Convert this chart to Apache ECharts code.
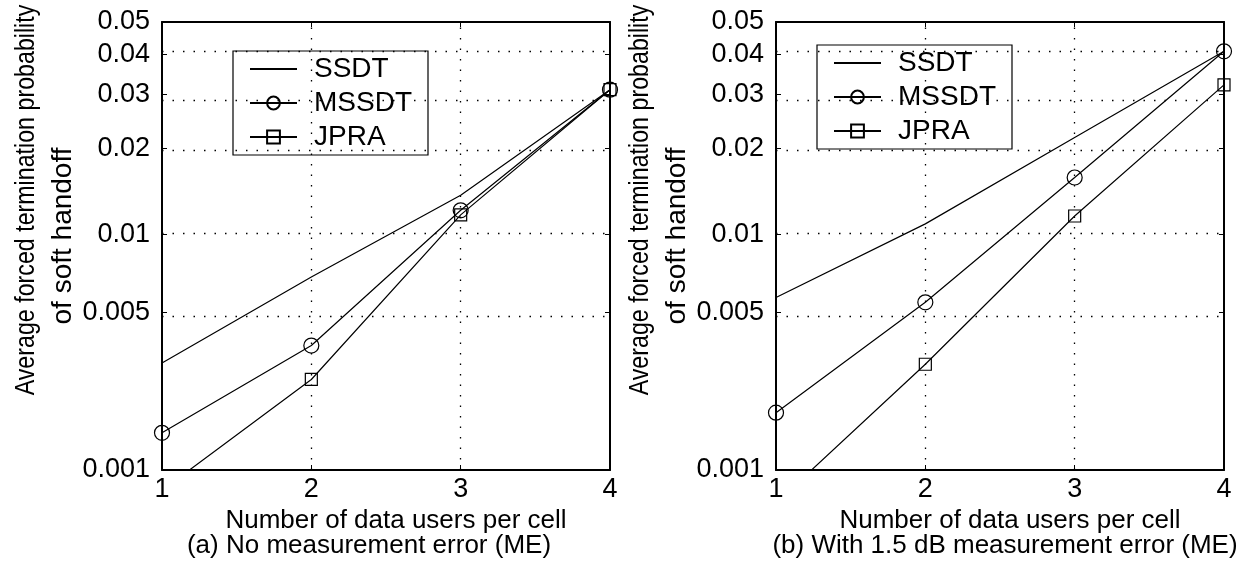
<!DOCTYPE html>
<html>
<head>
<meta charset="utf-8">
<script src="https://cdn.jsdelivr.net/npm/echarts@6/dist/echarts.min.js"></script>
<style>
  html, body { margin: 0; padding: 0; background: #fff; }
  #chart { width: 1253px; height: 571px; }
</style>
</head>
<body>
<div id="chart"></div>
<script>
// values
const userCounts = [1, 2, 3, 4];
const ssdtNoME = [0.0031, 0.0069, 0.0138, 0.031];
const mssdtNoME = [0.00151, 0.00367, 0.0122, 0.031];
const jpraNoME = [0.00079, 0.00263, 0.01175, 0.031];
const ssdtME = [0.00575, 0.0109, 0.0217, 0.0408];
const mssdtME = [0.00187, 0.0055, 0.0159, 0.0408];
const jpraME = [0.00068, 0.00306, 0.01164, 0.0321];
const yTickValues = [0.001, 0.005, 0.01, 0.02, 0.03, 0.04, 0.05];
const yTickLabels = ['0.001', '0.005', '0.01', '0.02', '0.03', '0.04', '0.05'];
const xGridValues = [2, 3];
const seriesNames = ['SSDT', 'MSSDT', 'JPRA'];
const captions = ['(a) No measurement error (ME)', '(b) With 1.5 dB measurement error (ME)'];
const yTitle = ['Average forced termination probability', 'of soft handoff'];
const xTitle = 'Number of data users per cell';

// the original y axis is a compressed (power) scale, not a plain log one
const P = 0.13;
const tf = v => Math.pow(v, P);

const FONT = 'Liberation Sans, Arial, Helvetica, sans-serif';
const gridLefts = [162, 776];

const chart = echarts.init(document.getElementById('chart'));

const grids = gridLefts.map(l => ({ left: l, top: 22, width: 448, height: 448 }));

const xAxes = [];
const yAxes = [];
gridLefts.forEach((l, gi) => {
  xAxes.push({
    type: 'value', gridIndex: gi, min: 1, max: 4, interval: 1, position: 'bottom',
    axisLine: { show: true, lineStyle: { color: '#000', width: 2 } },
    axisTick: { show: true, inside: true, length: 5, lineStyle: { color: '#000' } },
    axisLabel: { color: '#000', fontSize: 27, fontFamily: FONT, margin: 6 },
    splitLine: { show: false },
    name: xTitle, nameLocation: 'middle', nameGap: 34,
    nameTextStyle: { color: '#000', fontSize: 26, fontFamily: FONT, padding: [0, 0, 0, 20] }
  });
  xAxes.push({
    type: 'value', gridIndex: gi, min: 1, max: 4, interval: 1, position: 'top',
    axisLine: { show: true, lineStyle: { color: '#000', width: 2 } },
    axisTick: { show: true, inside: true, length: 5, lineStyle: { color: '#000' } },
    axisLabel: { show: false },
    splitLine: { show: false }
  });
  yAxes.push({
    type: 'value', gridIndex: gi, min: tf(0.001), max: tf(0.05), position: 'left',
    axisLine: { show: true, lineStyle: { color: '#000', width: 2 } },
    axisTick: { show: true, inside: true, length: 5, lineStyle: { color: '#000' }, customValues: yTickValues.map(tf) },
    axisLabel: {
      color: '#000', fontSize: 27, fontFamily: FONT, margin: 12,
      customValues: yTickValues.map(tf),
      formatter: v => {
        const i = yTickValues.findIndex(t => Math.abs(tf(t) - v) < 1e-9);
        return i >= 0 ? yTickLabels[i] : '';
      }
    },
    splitLine: { show: false }
  });
  yAxes.push({
    type: 'value', gridIndex: gi, min: tf(0.001), max: tf(0.05), position: 'right',
    axisLine: { show: true, lineStyle: { color: '#000', width: 2 } },
    axisTick: { show: true, inside: true, length: 5, lineStyle: { color: '#000' }, customValues: yTickValues.map(tf) },
    axisLabel: { show: false },
    splitLine: { show: false }
  });
});

// dotted grid drawn as mark lines
const gridMarks = {
  silent: true,
  symbol: ['none', 'none'],
  label: { show: false },
  lineStyle: { color: '#000', type: [1.5, 9], width: 1.3 },
  emphasis: { disabled: true },
  data: yTickValues.slice(1, -1).map(v => ({ yAxis: tf(v) })).concat(xGridValues.map(x => ({ xAxis: x })))
};

function makeSeries(name, values, gi, symbol, size) {
  return {
    name: name,
    type: 'line',
    xAxisIndex: gi * 2,
    yAxisIndex: gi * 2,
    data: values.map((v, i) => [userCounts[i], tf(v)]),
    symbol: symbol || 'none',
    symbolSize: size || 0,
    clip: true,
    lineStyle: { color: '#000', width: 1.2 },
    itemStyle: { color: 'transparent', borderColor: '#000', borderWidth: 1.2 },
    emphasis: { disabled: true }
  };
}

const panels = [
  [ssdtNoME, mssdtNoME, jpraNoME],
  [ssdtME, mssdtME, jpraME]
];
const series = [];
panels.forEach((vals, gi) => {
  const s = makeSeries(seriesNames[0], vals[0], gi);
  s.markLine = gridMarks;
  series.push(s);
  series.push(makeSeries(seriesNames[1], vals[1], gi, 'circle', 15));
  series.push(makeSeries(seriesNames[2], vals[2], gi, 'rect', 12));
});

// SSDT has no marker, so hide the legend symbol for it
const legendData = [
  { name: seriesNames[0], itemStyle: { color: 'transparent', borderColor: 'transparent', borderWidth: 0 } },
  { name: seriesNames[1] },
  { name: seriesNames[2] }
];

const legendPos = [{ left: 233, top: 51 }, { left: 817, top: 45 }];
const legends = legendPos.map(p => ({
  data: legendData,
  orient: 'vertical',
  left: p.left, top: p.top,
  padding: [4, 16, 4, 16],
  itemGap: 6,
  itemWidth: 47,
  itemHeight: 16,
  backgroundColor: '#fff',
  borderColor: '#000',
  borderWidth: 1.2,
  borderRadius: 0,
  selectedMode: false,
  textStyle: { color: '#000', fontSize: 28, fontFamily: FONT, padding: [0, 0, 0, 12] }
}));

const graphics = [];
gridLefts.forEach((l, gi) => {
  graphics.push({
    type: 'text', x: l - 135, y: 200, rotation: Math.PI / 2, scaleX: 0.86,
    style: { text: yTitle[0], fontSize: 27, fontFamily: FONT, fill: '#000', align: 'center', verticalAlign: 'middle', textAlign: 'center', textVerticalAlign: 'middle' }
  });
  graphics.push({
    type: 'text', x: l - 99, y: 236, rotation: Math.PI / 2,
    style: { text: yTitle[1], fontSize: 28, fontFamily: FONT, fill: '#000', align: 'center', verticalAlign: 'middle', textAlign: 'center', textVerticalAlign: 'middle' }
  });
});
graphics.push({
  type: 'text', x: 369, y: 546,
  style: { text: captions[0], fontSize: 26, fontFamily: FONT, fill: '#000', align: 'center', verticalAlign: 'middle', textAlign: 'center', textVerticalAlign: 'middle' }
});
graphics.push({
  type: 'text', x: 1005, y: 546,
  style: { text: captions[1], fontSize: 26, fontFamily: FONT, fill: '#000', align: 'center', verticalAlign: 'middle', textAlign: 'center', textVerticalAlign: 'middle' }
});

chart.setOption({
  animation: false,
  backgroundColor: '#fff',
  grid: grids,
  xAxis: xAxes,
  yAxis: yAxes,
  legend: legends,
  graphic: graphics,
  series: series
});
</script>
</body>
</html>
